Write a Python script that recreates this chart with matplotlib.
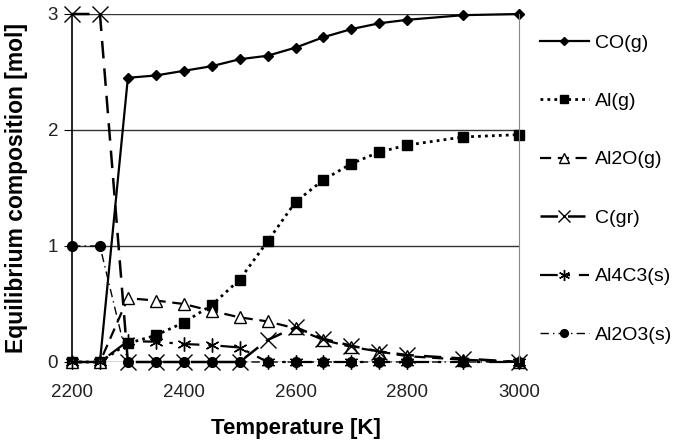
import matplotlib
matplotlib.use("Agg")
import matplotlib.pyplot as plt

plt.rcParams["font.family"] = ["Liberation Sans", "DejaVu Sans"]

temps = [2200, 2250, 2300, 2350, 2400, 2450, 2500, 2550, 2600, 2650, 2700, 2750, 2800, 2900, 3000]
co_g = [0, 0, 2.45, 2.47, 2.51, 2.55, 2.61, 2.64, 2.71, 2.80, 2.87, 2.92, 2.95, 2.99, 3.0]
al_g = [0, 0, 0.16, 0.23, 0.34, 0.49, 0.71, 1.04, 1.38, 1.57, 1.71, 1.81, 1.87, 1.94, 1.96]
al2o_g = [0, 0, 0.55, 0.53, 0.50, 0.44, 0.385, 0.35, 0.29, 0.19, 0.13, 0.09, 0.05, 0.02, 0.0]
c_gr = [3, 3, 0, 0, 0, 0, 0, 0.19, 0.30, 0.20, 0.14, 0.09, 0.06, 0.03, 0.0]
al4c3_s = [0, 0, 0.18, 0.175, 0.155, 0.145, 0.125, 0, 0, 0, 0, 0, 0, 0, 0]
al2o3_s = [1, 1, 0, 0, 0, 0, 0, 0, 0, 0, 0, 0, 0, 0, 0]

fig = plt.figure(figsize=(6.81, 4.41), dpi=100)
ax = fig.add_axes([72 / 681, 1 - 362 / 441, (519 - 72) / 681, (362 - 14) / 441])

asterisk = (6, 2, 0)
series = [
    ("CO(g)", co_g, dict(ls="-", lw=1.6, marker="D", ms=5, mfc="black")),
    ("Al(g)", al_g, dict(ls=(0, (1, 1.5)), lw=2, marker="s", ms=7.5, mfc="black")),
    ("Al2O(g)", al2o_g, dict(ls=(0, (5, 3)), lw=1.6, marker="^", ms=9, mfc="white")),
    ("C(gr)", c_gr, dict(ls=(0, (7, 4)), lw=1.8, marker="x", ms=11, mew=1.0)),
    ("Al4C3(s)", al4c3_s, dict(ls=(0, (8, 4, 1.5, 4)), lw=1.6, marker=asterisk, ms=10, mew=1.0)),
    ("Al2O3(s)", al2o3_s, dict(ls=(0, (6, 3, 1, 3)), lw=1.0, marker="o", ms=7, mfc="black")),
]
for label, vals, st in series:
    ax.plot(temps, vals, color="black", mec="black", label=label, clip_on=False, **st)

ax.set_xlim(2200, 3000)
ax.set_ylim(0, 3)
ax.set_xticks([2200, 2400, 2600, 2800, 3000])
ax.set_yticks([0, 1, 2, 3])
ax.grid(axis="y", color="#333333", lw=1.0)
ax.set_axisbelow(True)
for side in ["top", "bottom"]:
    ax.spines[side].set_visible(False)
ax.spines["left"].set_color("black")
ax.spines["left"].set_linewidth(1.2)
ax.spines["right"].set_color("#888888")
ax.tick_params(axis="y", length=6, direction="out", labelsize=13.5, pad=4)
ax.tick_params(axis="x", length=0, labelsize=13.5, pad=16)
for lbl in ax.get_xticklabels() + ax.get_yticklabels():
    lbl.set_color("#222222")

ax.set_xlabel("Temperature [K]", fontsize=16, fontweight="bold", labelpad=12)
ax.set_ylabel("Equilibrium composition [mol]", fontsize=16.5, fontweight="bold", labelpad=14)

ax.legend(loc="upper left", bbox_to_anchor=(540 / 681, 1 - 34 / 441),
          bbox_transform=fig.transFigure, frameon=False, fontsize=14,
          handlelength=2.5, handletextpad=0.35, labelspacing=2.1,
          borderpad=0, borderaxespad=0, markerscale=0.8)

fig.savefig("out.png", dpi=100)
